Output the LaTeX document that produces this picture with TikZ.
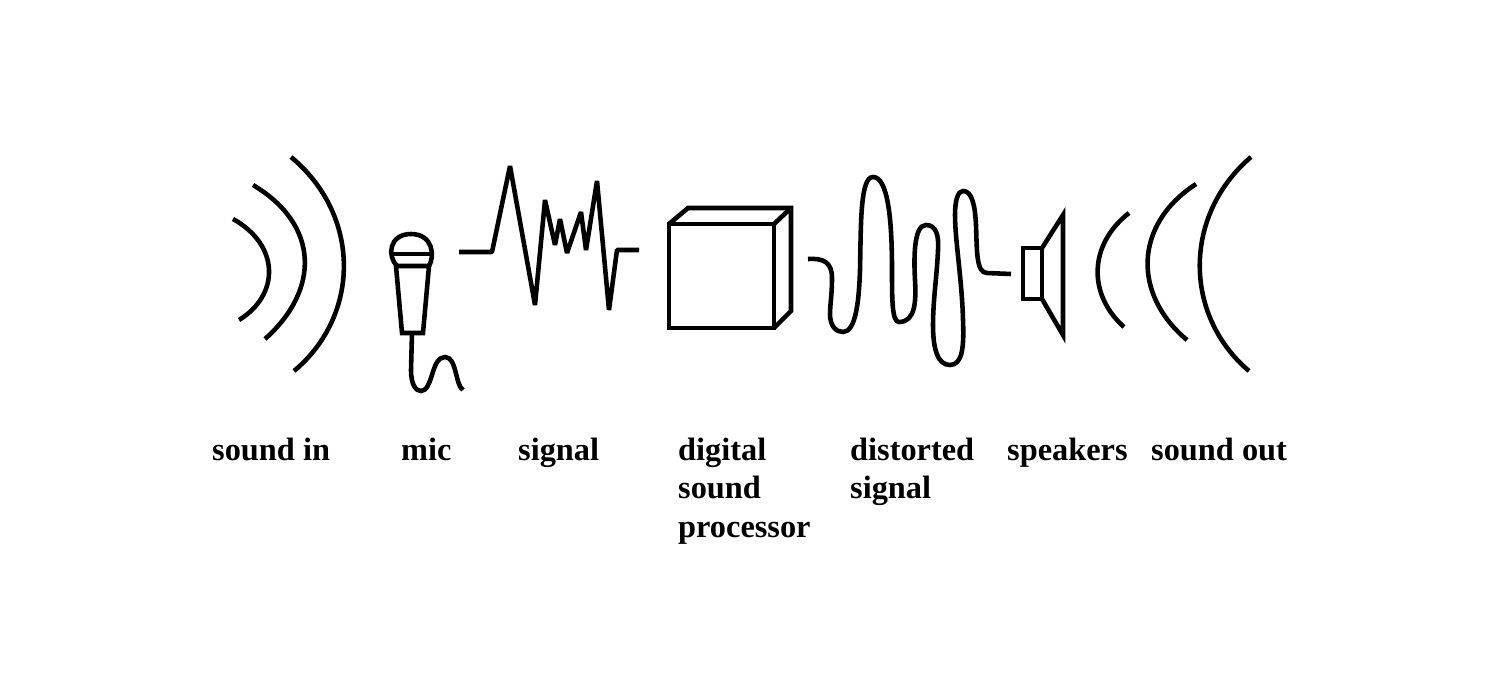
\documentclass[tikz,border=0pt]{standalone}
\usepackage{fontspec}
\setmainfont{Liberation Serif}
\usepackage{tikz}
\tikzstyle{wire} = [line width = 1.3pt]
\tikzstyle{tag} = [anchor = base west, inner sep = 0pt, align = left, font = \fontsize{9.2}{10.9}\selectfont\bfseries]

\begin{document}
\begin{tikzpicture}[x = 0.01cm, y = -0.01cm]
        \useasboundingbox (0,0) rectangle (1500,700);
        % sound in
        \draw[wire] (233,219) .. controls (280,245) and (280,295) .. (239,320);
        \draw[wire] (253,185) .. controls (320,225) and (320,290) .. (265,339);
        \draw[wire] (291,157) .. controls (361,215) and (361,315) .. (294,371);
        % mic
        \draw[wire] (397,266) .. controls (387,256) and (389,234) .. (411,234) .. controls (433,234) and (435,256) .. (429,266);
        \draw[wire] (391,254) -- (431,254);
        \draw[wire] (396,266) -- (429,266) -- (423,333) -- (402,333) -- cycle;
        \draw[wire] (412,333) -- (411,370) .. controls (411,385) and (416,391) .. (421,391) .. controls (433,391) and (431,357) .. (445,357) .. controls (457,357) and (455,385) .. (463,390);
        % signal
        \draw[wire, line join = bevel] (459,252) -- (492,252) -- (510,166) -- (535,305) -- (545,200) -- (555,245) -- (560,219) -- (567,253) -- (581,212) -- (586,250) -- (597,181) -- (609,310) -- (617,250) -- (639,250);
        % processor
        \draw[wire] (669,224) rectangle (774,328);
        \draw[wire] (669,224) -- (688,208) -- (791,208) -- (791,311) -- (774,328);
        \draw[wire] (791,208) -- (774,224);
        % distorted signal
        \draw[wire] (808,259) .. controls (823,258) and (832,262) .. (832,278)
            .. controls (832,295) and (830,305) .. (830,314)
            .. controls (830,326) and (836,332) .. (843,332)
            .. controls (856,332) and (859,300) .. (860,270)
            .. controls (861,225) and (860,177) .. (873,177)
            .. controls (888,177) and (892,220) .. (892,270)
            .. controls (892,300) and (892,322) .. (899,322)
            .. controls (916,322) and (916,300) .. (915,280)
            .. controls (914,262) and (913,225) .. (926,225)
            .. controls (936,225) and (939,235) .. (938,250)
            .. controls (937,275) and (933,300) .. (933,325)
            .. controls (933,350) and (938,365) .. (950,365)
            .. controls (963,365) and (964,345) .. (963,320)
            .. controls (962,280) and (955,240) .. (955,215)
            .. controls (955,200) and (958,191) .. (963,191)
            .. controls (972,191) and (975,205) .. (976,225)
            .. controls (977,250) and (976,273) .. (987,273)
            -- (1011,274);
        % speakers
        \draw[wire] (1023,248) rectangle (1042,299);
        \draw[wire] (1042,248) -- (1063,215) -- (1063,335) -- (1042,299);
        % sound out
        \draw[wire] (1129,213) .. controls (1088,245) and (1088,295) .. (1124,327);
        \draw[wire] (1196,184) .. controls (1133,225) and (1133,295) .. (1187,340);
        \draw[wire] (1251,157) .. controls (1183,215) and (1183,315) .. (1249,371);
        % labels
        \node (soundin) [tag] at (211.5,460) {sound in};
        \node (mic) [tag] at (400.5,460) {mic};
        \node (signal) [tag] at (517.5,460) {signal};
        \node (processor) [tag] at (677.5,537) {digital\\sound\\processor};
        \node (distorted) [tag] at (849.5,498.5) {distorted\\signal};
        \node (speakers) [tag] at (1006.5,460) {speakers};
        \node (soundout) [tag] at (1150.5,460) {sound out};
    \end{tikzpicture}
\end{document}
